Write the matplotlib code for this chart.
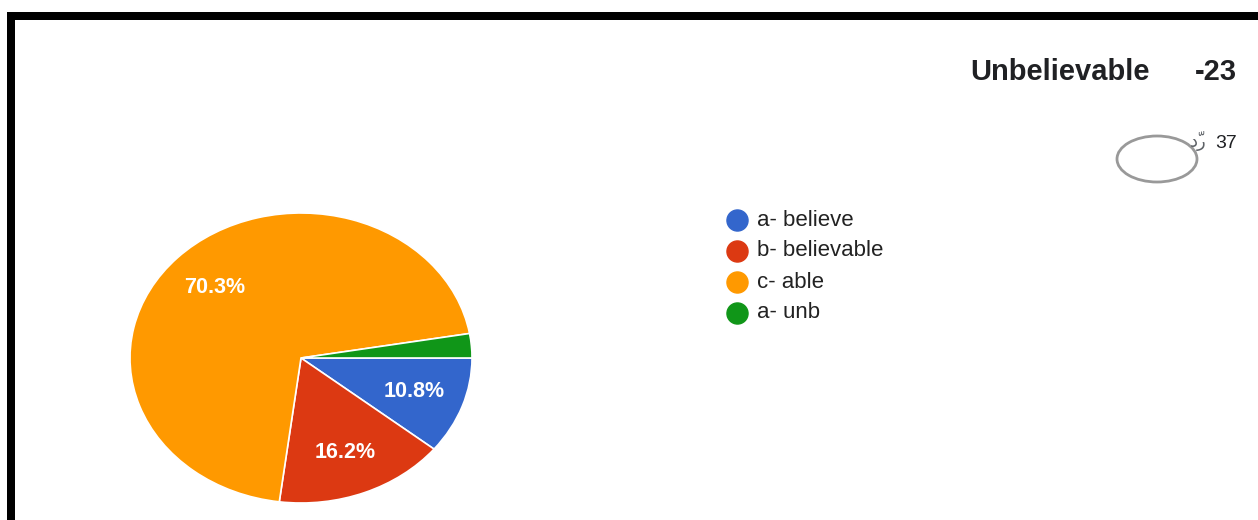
import matplotlib.pyplot as plt
from matplotlib.patches import Ellipse

# Данные диаграммы
labels = ['a- believe', 'b- believable', 'c- able', 'a- unb']
counts = [4, 6, 26, 1]
colors = ['#3366CC', '#DC3912', '#FF9900', '#109618']
title_word = 'Unbelievable'
title_num = '-23'
resp_count = '37'
resp_word = 'ردّ'

W, H = 1258, 520
fig = plt.figure(figsize=(W / 100, H / 100), dpi=100)
plt.rcParams['font.family'] = ['Liberation Sans', 'DejaVu Sans']

# Слой для рамки, заголовка и легенды (в пикселях)
bg = fig.add_axes([0, 0, 1, 1])
bg.set_xlim(0, W)
bg.set_ylim(H, 0)
bg.axis('off')

# Чёрная рамка сверху и слева
bg.fill_between([7, W], 12, 20, color='black', lw=0)
bg.fill_between([7, 15], 12, H, color='black', lw=0)

bg.text(1150, 72, title_word, ha='right', va='center', fontsize=21,
        fontweight='bold', color='#202124')
bg.text(1237, 72, title_num, ha='right', va='center', fontsize=21,
        fontweight='bold', color='#202124')
bg.text(1237, 143, resp_count, ha='right', va='center', fontsize=14,
        color='#202124')
# арабское слово: matplotlib пишет слева направо, поэтому буквы в обратном порядке
bg.text(1207, 141, resp_word[1:] + resp_word[0], ha='right', va='center',
        fontsize=13, color='#5f6368', family='DejaVu Sans')
bg.add_patch(Ellipse((1157, 159), 80, 46, fill=False, edgecolor='#999999', lw=2))

# Легенда
for i, (lab, col) in enumerate(zip(labels, colors)):
    y = 220 + i * 31
    bg.scatter([737], [y], s=230, color=col, zorder=3)
    bg.text(757, y, lab, ha='left', va='center', fontsize=16, color='#222222')

# Круговая диаграмма (растянута по горизонтали, как на скриншоте)
ax = fig.add_axes([130 / W, (H - 503) / H, 342 / W, 290 / H])
wedges, texts, autotexts = ax.pie(
    counts, colors=colors, startangle=0, counterclock=False,
    autopct=lambda p: f'{p:.1f}%' if p > 5 else '', pctdistance=0.70,
    wedgeprops=dict(edgecolor='white', linewidth=1.2),
    textprops=dict(color='white', fontsize=15.5, fontweight='bold'))
ax.set_aspect('auto')
ax.set_xlim(-1, 1)
ax.set_ylim(-1, 1)

fig.savefig('out.png', dpi=100)
